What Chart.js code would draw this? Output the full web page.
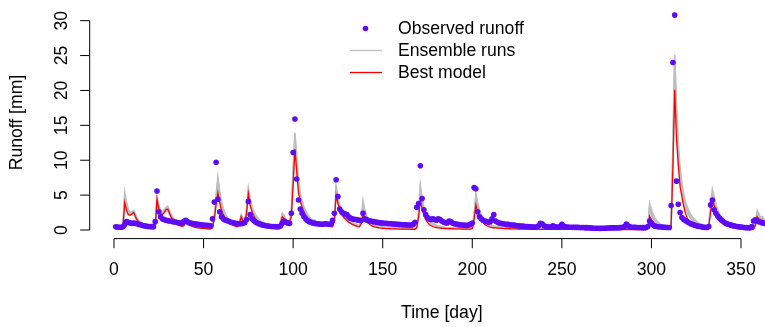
<!DOCTYPE html>
<html>
<head>
<meta charset="utf-8">
<script src="https://cdn.jsdelivr.net/npm/chart.js@4/dist/chart.umd.min.js"></script>
<style>
html,body{margin:0;padding:0;background:#fff;}
canvas{display:block;}
</style>
</head>
<body>
<canvas id="c" width="765" height="327"></canvas>
<script>
// ---- DATA (daily values, day 1..365) ----
const xTickLabels = [0, 50, 100, 150, 200, 250, 300, 350];
const yTickLabels = [0, 5, 10, 15, 20, 25, 30];

const observed = [
0.45,0.42,0.40,0.40,0.45,0.80,1.20,1.10,1.00,0.95,
1.00,0.95,0.90,0.80,0.75,0.65,0.60,0.55,0.50,0.50,
0.48,0.45,1.20,5.60,2.60,1.90,1.60,1.50,1.40,1.35,
1.30,1.25,1.20,1.15,1.10,1.05,1.00,1.00,1.20,1.40,
1.20,1.05,0.98,0.92,0.88,0.84,0.80,0.77,0.74,0.70,
0.68,0.66,0.64,0.62,1.60,4.00,9.70,4.40,2.60,1.90,
1.60,1.45,1.35,1.25,1.15,1.08,1.00,0.95,0.92,0.88,
0.90,1.00,1.05,1.50,4.10,2.20,1.60,1.35,1.15,1.00,
0.90,0.80,0.72,0.66,0.61,0.57,0.54,0.51,0.50,0.48,
0.47,0.47,0.60,1.00,1.30,1.10,1.00,0.95,2.40,11.10,
15.90,7.30,4.30,3.00,2.40,1.90,1.60,1.35,1.20,1.10,
1.00,0.95,0.90,0.88,0.85,0.82,0.85,0.90,0.85,0.82,
0.85,1.40,2.40,7.20,4.80,3.00,2.60,2.40,2.30,2.20,
1.90,1.70,1.60,1.55,1.50,1.45,1.40,1.35,2.40,1.60,
1.45,1.35,1.30,1.25,1.20,1.15,1.10,1.06,1.02,1.00,
0.97,0.95,0.92,0.90,0.88,0.86,0.84,0.82,0.80,0.78,
0.76,0.75,0.73,0.72,0.70,0.72,0.80,1.10,3.25,3.80,
9.20,4.50,2.90,2.20,1.80,1.60,1.50,1.60,1.50,1.40,
1.60,1.50,1.30,1.15,1.05,1.00,1.30,1.20,1.00,0.90,
0.85,0.80,0.76,0.72,0.70,0.68,0.66,0.70,0.80,1.00,
6.10,5.90,2.60,1.90,1.60,1.40,1.30,1.20,1.10,1.20,
1.60,2.20,1.30,1.10,1.00,0.95,0.90,0.85,0.80,0.80,
0.75,0.72,0.70,0.66,0.62,0.60,0.58,0.55,0.52,0.50,
0.48,0.46,0.45,0.44,0.43,0.42,0.60,0.95,0.90,0.60,
0.50,0.45,0.42,0.45,0.60,0.50,0.42,0.40,0.50,0.80,
0.55,0.45,0.42,0.40,0.40,0.38,0.38,0.37,0.37,0.36,
0.35,0.35,0.34,0.34,0.33,0.30,0.28,0.26,0.25,0.25,
0.24,0.24,0.25,0.26,0.27,0.28,0.30,0.30,0.31,0.32,
0.33,0.34,0.35,0.40,0.50,0.85,0.60,0.45,0.40,0.38,
0.37,0.36,0.35,0.35,0.34,0.34,0.35,0.50,1.30,1.00,
0.70,0.55,0.50,0.46,0.44,0.42,0.40,0.38,0.36,0.35,
3.50,24.00,30.80,7.00,3.70,2.50,1.80,1.50,1.35,1.20,
1.05,0.90,0.80,0.70,0.62,0.55,0.50,0.45,0.40,0.37,
0.35,0.50,3.60,4.30,2.90,2.40,2.00,1.70,1.45,1.25,
1.05,0.92,0.82,0.74,0.66,0.60,0.54,0.50,0.46,0.42,
0.39,0.36,0.34,0.32,0.30,0.50,1.30,1.45,1.30,1.20,
1.10,1.00,0.95,0.90,0.85
];

const bestModel = [
0.30,0.28,0.26,0.25,0.45,3.90,2.80,2.20,2.10,2.30,
2.50,1.90,1.40,1.05,0.80,0.62,0.50,0.42,0.36,0.31,
0.28,0.25,0.50,4.40,3.00,2.30,2.20,2.50,2.90,3.00,
2.40,1.80,1.35,1.05,0.85,0.70,0.60,0.52,0.60,1.20,
0.95,0.75,0.60,0.50,0.42,0.36,0.31,0.27,0.24,0.22,
0.20,0.19,0.18,0.17,0.30,1.60,3.60,5.30,3.90,2.80,
2.20,1.70,1.35,1.10,0.90,0.75,0.62,0.52,0.45,0.90,
1.90,1.30,1.00,2.40,5.20,3.60,2.60,2.00,1.60,1.30,
1.10,0.95,0.82,0.72,0.63,0.56,0.50,0.45,0.41,0.38,
0.35,0.33,1.00,1.90,1.60,1.20,0.95,0.90,2.00,6.50,
11.60,8.30,5.30,4.10,3.30,2.60,2.10,1.70,1.40,1.15,
0.95,1.10,0.85,0.70,0.60,0.52,0.60,0.90,0.70,0.56,
0.48,0.45,1.20,5.00,3.80,2.80,2.30,1.90,1.60,1.35,
1.10,0.95,0.80,0.70,0.60,0.50,0.45,0.90,2.15,1.60,
1.20,0.95,0.75,0.60,0.50,0.42,0.36,0.31,0.27,0.24,
0.22,0.20,0.19,0.18,0.17,0.16,0.15,0.15,0.14,0.14,
0.13,0.13,0.12,0.12,0.12,0.11,0.11,0.11,0.30,1.80,
4.30,3.00,2.10,1.50,1.10,0.80,0.62,0.50,0.42,0.36,
0.32,0.28,0.25,0.23,0.21,0.20,0.19,0.18,0.17,0.16,
0.16,0.15,0.15,0.14,0.14,0.13,0.13,0.13,0.12,0.20,
1.50,3.60,2.60,1.90,1.40,1.05,0.80,0.62,0.50,0.42,
0.36,0.32,0.30,0.28,0.26,0.24,0.22,0.21,0.20,0.19,
0.18,0.17,0.16,0.15,0.15,0.14,0.14,0.13,0.13,0.12,
0.12,0.12,0.11,0.11,0.11,0.10,0.10,0.10,0.10,0.10,
0.10,0.10,0.09,0.09,0.09,0.09,0.09,0.09,0.08,0.08,
0.08,0.08,0.08,0.08,0.08,0.08,0.08,0.08,0.08,0.08,
0.08,0.08,0.07,0.07,0.07,0.07,0.07,0.07,0.07,0.07,
0.07,0.07,0.07,0.07,0.07,0.07,0.07,0.07,0.07,0.07,
0.07,0.07,0.06,0.06,0.06,0.06,0.06,0.06,0.06,0.06,
0.06,0.06,0.06,0.06,0.06,0.06,0.06,0.30,2.00,1.50,
1.10,0.80,0.60,0.45,0.35,0.28,0.22,0.18,0.15,0.14,
0.60,9.00,20.10,13.00,9.30,6.20,4.80,3.40,2.40,1.70,
1.20,0.90,0.70,0.55,0.45,0.38,0.32,0.28,0.24,0.21,
0.19,0.50,2.50,4.30,3.60,2.70,2.00,1.50,1.15,0.90,
0.72,0.58,0.47,0.39,0.33,0.28,0.24,0.21,0.19,0.17,
0.15,0.14,0.13,0.12,0.12,0.11,0.11,0.60,1.90,1.60,
1.20,1.40,1.00,0.80,0.65
];

const ensembleRunA = [
0.35,0.33,0.31,0.30,0.60,5.40,4.00,3.00,2.50,2.60,
2.80,2.20,1.70,1.35,1.10,0.90,0.75,0.64,0.55,0.48,
0.43,0.39,0.60,4.80,3.60,2.80,2.60,2.90,3.20,3.40,
2.80,2.20,1.75,1.40,1.15,0.95,0.82,0.72,0.80,1.30,
1.10,0.92,0.78,0.67,0.58,0.51,0.45,0.40,0.36,0.33,
0.30,0.28,0.26,0.25,0.40,2.20,5.00,7.60,5.60,4.10,
3.10,2.40,1.90,1.55,1.30,1.10,0.95,0.83,0.74,1.20,
2.20,1.70,1.40,3.00,6.00,4.50,3.40,2.70,2.20,1.80,
1.50,1.28,1.10,0.96,0.85,0.76,0.68,0.62,0.57,0.52,
0.48,0.45,1.40,2.40,2.10,1.60,1.30,1.20,2.80,9.00,
13.90,10.80,7.20,5.40,4.20,3.40,2.80,2.30,1.95,1.65,
1.40,1.45,1.20,1.02,0.88,0.77,0.82,1.10,0.92,0.78,
0.68,0.62,1.60,6.30,4.90,3.70,3.00,2.50,2.10,1.80,
1.52,1.30,1.12,0.97,0.85,0.75,0.67,1.30,4.20,2.90,
2.10,1.60,1.28,1.05,0.88,0.75,0.65,0.57,0.50,0.45,
0.41,0.38,0.35,0.33,0.31,0.29,0.28,0.27,0.26,0.25,
0.24,0.23,0.22,0.22,0.21,0.21,0.20,0.20,0.50,2.40,
6.45,4.60,3.30,2.45,1.85,1.45,1.15,0.95,0.80,0.68,
0.59,0.52,0.46,0.42,0.38,0.35,0.33,0.31,0.29,0.28,
0.27,0.26,0.25,0.24,0.23,0.23,0.22,0.22,0.21,0.35,
2.20,5.30,3.90,2.90,2.20,1.70,1.35,1.10,0.90,0.76,
0.65,0.57,0.50,0.45,0.41,0.38,0.35,0.33,0.31,0.29,
0.28,0.27,0.26,0.25,0.24,0.23,0.23,0.22,0.22,0.21,
0.21,0.20,0.20,0.20,0.19,0.19,0.19,0.18,0.18,0.18,
0.18,0.17,0.17,0.17,0.17,0.16,0.16,0.16,0.16,0.16,
0.15,0.15,0.15,0.15,0.15,0.15,0.15,0.15,0.15,0.15,
0.15,0.15,0.14,0.14,0.14,0.14,0.14,0.14,0.14,0.14,
0.14,0.14,0.14,0.13,0.13,0.13,0.13,0.13,0.13,0.13,
0.13,0.13,0.13,0.13,0.13,0.12,0.12,0.12,0.12,0.12,
0.12,0.12,0.12,0.12,0.12,0.12,0.12,0.50,3.80,2.90,
2.20,1.70,1.30,1.05,0.85,0.70,0.60,0.52,0.46,0.42,
1.00,12.00,25.10,18.00,12.50,9.00,6.80,5.20,4.10,3.30,
2.70,2.20,1.85,1.55,1.30,1.10,0.95,0.82,0.72,0.64,
0.57,0.80,3.20,5.80,4.80,3.70,2.90,2.30,1.85,1.50,
1.25,1.05,0.90,0.78,0.68,0.60,0.53,0.48,0.43,0.39,
0.36,0.33,0.31,0.29,0.27,0.26,0.25,0.80,2.80,2.30,
1.80,1.90,1.50,1.20,0.95
];

const ensembleRunB = [
0.32,0.30,0.29,0.28,0.50,4.90,3.60,2.70,2.30,2.40,
2.60,2.00,1.50,1.20,0.95,0.78,0.65,0.55,0.48,0.42,
0.38,0.35,0.55,4.30,3.30,2.60,2.40,2.70,3.00,3.10,
2.50,1.95,1.55,1.25,1.02,0.85,0.73,0.64,0.72,1.20,
1.00,0.83,0.70,0.60,0.52,0.46,0.41,0.37,0.33,0.30,
0.28,0.26,0.24,0.23,0.35,2.00,4.60,7.10,5.10,3.70,
2.80,2.15,1.70,1.40,1.17,0.98,0.84,0.73,0.65,1.05,
2.00,1.55,1.25,2.80,5.60,4.10,3.10,2.45,2.00,1.65,
1.38,1.17,1.00,0.88,0.77,0.69,0.62,0.56,0.51,0.47,
0.44,0.41,1.30,2.20,1.90,1.45,1.15,1.05,2.60,8.20,
13.20,9.80,6.60,4.90,3.80,3.05,2.50,2.05,1.72,1.46,
1.25,1.30,1.08,0.92,0.80,0.70,0.76,1.00,0.83,0.70,
0.62,0.56,1.50,5.90,4.50,3.40,2.75,2.25,1.90,1.62,
1.38,1.18,1.02,0.88,0.77,0.68,0.61,1.20,3.60,2.50,
1.85,1.42,1.13,0.93,0.78,0.67,0.58,0.51,0.45,0.41,
0.37,0.34,0.32,0.30,0.28,0.27,0.26,0.25,0.24,0.23,
0.22,0.21,0.21,0.20,0.20,0.19,0.19,0.18,0.45,2.20,
5.80,4.10,2.95,2.20,1.65,1.30,1.04,0.86,0.72,0.62,
0.54,0.47,0.42,0.38,0.35,0.32,0.30,0.28,0.27,0.26,
0.25,0.24,0.23,0.22,0.21,0.21,0.20,0.20,0.19,0.30,
2.00,4.70,3.50,2.60,1.95,1.50,1.20,0.97,0.80,0.68,
0.58,0.51,0.45,0.41,0.37,0.34,0.32,0.30,0.28,0.27,
0.26,0.25,0.24,0.23,0.22,0.21,0.21,0.20,0.20,0.19,
0.19,0.18,0.18,0.18,0.17,0.17,0.17,0.16,0.16,0.16,
0.16,0.15,0.15,0.15,0.15,0.15,0.14,0.14,0.14,0.14,
0.14,0.14,0.14,0.13,0.13,0.13,0.13,0.13,0.13,0.13,
0.13,0.13,0.13,0.12,0.12,0.12,0.12,0.12,0.12,0.12,
0.12,0.12,0.12,0.12,0.12,0.11,0.11,0.11,0.11,0.11,
0.11,0.11,0.11,0.11,0.11,0.11,0.11,0.11,0.11,0.11,
0.11,0.11,0.11,0.11,0.11,0.11,0.11,0.45,3.30,2.50,
1.90,1.45,1.12,0.90,0.74,0.62,0.53,0.46,0.41,0.37,
0.90,11.00,24.20,16.50,11.20,8.00,6.00,4.60,3.60,2.90,
2.35,1.95,1.62,1.37,1.16,1.00,0.86,0.75,0.66,0.59,
0.53,0.75,3.00,5.30,4.30,3.30,2.60,2.05,1.65,1.35,
1.12,0.95,0.81,0.70,0.61,0.54,0.48,0.43,0.39,0.36,
0.33,0.30,0.28,0.26,0.25,0.24,0.23,0.70,2.40,2.00,
1.55,1.70,1.30,1.05,0.85
];

const ensembleRunC = [
0.30,0.28,0.27,0.26,0.45,4.40,3.20,2.40,2.20,2.30,
2.30,1.75,1.30,1.02,0.80,0.66,0.55,0.47,0.41,0.36,
0.33,0.30,0.50,4.00,3.00,2.40,2.30,2.50,2.70,2.80,
2.20,1.70,1.35,1.08,0.88,0.74,0.63,0.56,0.65,1.10,
0.90,0.74,0.62,0.53,0.46,0.40,0.36,0.32,0.29,0.27,
0.25,0.23,0.22,0.21,0.32,1.80,4.20,6.40,4.60,3.30,
2.50,1.90,1.50,1.22,1.02,0.86,0.74,0.64,0.57,0.95,
1.80,1.40,1.12,2.60,5.00,3.70,2.80,2.20,1.78,1.48,
1.24,1.05,0.90,0.79,0.70,0.62,0.56,0.51,0.46,0.43,
0.40,0.38,1.20,2.00,1.75,1.32,1.05,0.97,2.30,7.40,
12.60,9.00,6.00,4.50,3.50,2.80,2.30,1.88,1.57,1.33,
1.14,1.20,0.98,0.84,0.73,0.64,0.70,0.95,0.76,0.64,
0.56,0.51,1.40,5.40,4.10,3.10,2.50,2.05,1.72,1.47,
1.25,1.07,0.92,0.80,0.70,0.62,0.55,1.10,3.00,2.10,
1.55,1.20,0.96,0.79,0.66,0.57,0.50,0.44,0.39,0.35,
0.32,0.30,0.28,0.26,0.25,0.24,0.23,0.22,0.21,0.20,
0.20,0.19,0.19,0.18,0.18,0.17,0.17,0.17,0.40,2.00,
5.20,3.70,2.65,1.95,1.47,1.15,0.92,0.76,0.64,0.55,
0.48,0.42,0.38,0.34,0.31,0.29,0.27,0.25,0.24,0.23,
0.22,0.21,0.20,0.20,0.19,0.19,0.18,0.18,0.17,0.27,
1.80,4.20,3.10,2.30,1.72,1.32,1.05,0.85,0.70,0.60,
0.52,0.46,0.41,0.37,0.34,0.31,0.29,0.27,0.25,0.24,
0.23,0.22,0.21,0.20,0.20,0.19,0.19,0.18,0.18,0.17,
0.17,0.17,0.16,0.16,0.16,0.16,0.15,0.15,0.15,0.15,
0.15,0.14,0.14,0.14,0.14,0.14,0.13,0.13,0.13,0.13,
0.13,0.13,0.12,0.12,0.12,0.12,0.12,0.12,0.12,0.12,
0.12,0.11,0.11,0.11,0.11,0.11,0.11,0.11,0.11,0.11,
0.11,0.11,0.11,0.10,0.10,0.10,0.10,0.10,0.10,0.10,
0.10,0.10,0.10,0.10,0.10,0.10,0.10,0.10,0.10,0.10,
0.10,0.10,0.10,0.10,0.10,0.10,0.10,0.40,2.80,2.10,
1.60,1.22,0.95,0.76,0.62,0.52,0.45,0.39,0.35,0.32,
0.80,10.20,22.80,15.20,10.20,7.20,5.30,4.00,3.10,2.45,
1.98,1.62,1.35,1.14,0.97,0.83,0.72,0.63,0.56,0.50,
0.45,0.70,2.80,4.80,3.90,3.00,2.30,1.80,1.45,1.18,
0.98,0.83,0.71,0.61,0.53,0.47,0.42,0.38,0.34,0.31,
0.29,0.27,0.25,0.24,0.22,0.21,0.20,0.65,2.10,1.75,
1.35,1.55,1.15,0.92,0.75
];

// sanity check of series lengths
[observed, bestModel, ensembleRunA, ensembleRunB, ensembleRunC].forEach((a, i) => {
  if (a.length !== 365) throw new Error('series ' + i + ' has length ' + a.length);
});

const days = observed.map((_, i) => i + 1);
const toXY = arr => arr.map((v, i) => ({ x: days[i], y: v }));

const FONT_FAMILY = '"Liberation Sans", Arial, Helvetica, sans-serif';
const FONT = '17.6px ' + FONT_FAMILY;
const OBS_COLOR = '#5f0bf7';
const RED = '#ff0000';
const GRAY = '#bebebe';

const rStyle = {
  id: 'rStyle',
  afterDraw(chart) {
    const { ctx, chartArea, scales } = chart;
    const xs = scales.x, ys = scales.y;
    const TICK = 9.6;
    ctx.save();
    ctx.strokeStyle = '#000';
    ctx.fillStyle = '#000';
    ctx.lineWidth = 1;
    ctx.font = FONT;

    // x axis
    const yAx = chartArea.bottom;
    const xa = xs.getPixelForValue(xTickLabels[0]);
    const xb = xs.getPixelForValue(xTickLabels[xTickLabels.length - 1]);
    ctx.beginPath();
    ctx.moveTo(xa, yAx); ctx.lineTo(xb, yAx);
    xTickLabels.forEach(t => {
      const px = xs.getPixelForValue(t);
      ctx.moveTo(px, yAx); ctx.lineTo(px, yAx + TICK);
    });
    ctx.stroke();
    ctx.textAlign = 'center';
    ctx.textBaseline = 'middle';
    xTickLabels.forEach(t => {
      ctx.fillText(String(t), xs.getPixelForValue(t), 270);
    });
    ctx.fillText('Time [day]', (chartArea.left + xs.getPixelForValue(379.56)) / 2, 313);

    // y axis
    const xAx = chartArea.left;
    const ya = ys.getPixelForValue(yTickLabels[0]);
    const yb = ys.getPixelForValue(yTickLabels[yTickLabels.length - 1]);
    ctx.beginPath();
    ctx.moveTo(xAx, ya); ctx.lineTo(xAx, yb);
    yTickLabels.forEach(t => {
      const py = ys.getPixelForValue(t);
      ctx.moveTo(xAx, py); ctx.lineTo(xAx - TICK, py);
    });
    ctx.stroke();
    yTickLabels.forEach(t => {
      ctx.save();
      ctx.translate(62, ys.getPixelForValue(t));
      ctx.rotate(-Math.PI / 2);
      ctx.fillText(String(t), 0, 0);
      ctx.restore();
    });
    ctx.save();
    ctx.translate(17, (chartArea.top + chartArea.bottom) / 2);
    ctx.rotate(-Math.PI / 2);
    ctx.fillText('Runoff [mm]', 0, 0);
    ctx.restore();

    // legend
    ctx.textAlign = 'left';
    ctx.fillStyle = OBS_COLOR;
    ctx.beginPath();
    ctx.arc(365.5, 28.5, 2.8, 0, Math.PI * 2);
    ctx.fill();
    ctx.strokeStyle = GRAY;
    ctx.lineWidth = 1.3;
    ctx.beginPath(); ctx.moveTo(350, 50.5); ctx.lineTo(382, 50.5); ctx.stroke();
    ctx.strokeStyle = RED;
    ctx.beginPath(); ctx.moveTo(350, 72.5); ctx.lineTo(382, 72.5); ctx.stroke();
    ctx.fillStyle = '#000';
    ctx.fillText('Observed runoff', 398, 29);
    ctx.fillText('Ensemble runs', 398, 51);
    ctx.fillText('Best model', 398, 73);
    ctx.restore();
  }
};

const grayRun = (label, arr) => ({
  label, data: toXY(arr), borderColor: GRAY, borderWidth: 1.6,
  pointRadius: 0, fill: false, order: 3
});

new Chart(document.getElementById('c'), {
  type: 'line',
  data: {
    datasets: [
      { label: 'Observed runoff', data: toXY(observed), showLine: false,
        pointRadius: 2.8, pointBackgroundColor: OBS_COLOR, pointBorderWidth: 0,
        pointBorderColor: OBS_COLOR, order: 0 },
      { label: 'Best model', data: toXY(bestModel), borderColor: RED, borderWidth: 1.3,
        pointRadius: 0, fill: false, order: 1 },
      grayRun('Ensemble run A', ensembleRunA),
      grayRun('Ensemble run B', ensembleRunB),
      grayRun('Ensemble run C', ensembleRunC)
    ]
  },
  options: {
    responsive: false,
    animation: false,
    devicePixelRatio: 1,
    layout: { autoPadding: false, padding: { left: 89.7, right: 0, top: 6.5, bottom: 88.4 } },
    elements: { line: { tension: 0 } },
    scales: {
      x: { type: 'linear', display: false, min: -13.56, max: 363.4 },
      y: { type: 'linear', display: false, min: -1.232, max: 32.032 }
    },
    plugins: { legend: { display: false }, tooltip: { enabled: false } }
  },
  plugins: [rStyle]
});
</script>
</body>
</html>
